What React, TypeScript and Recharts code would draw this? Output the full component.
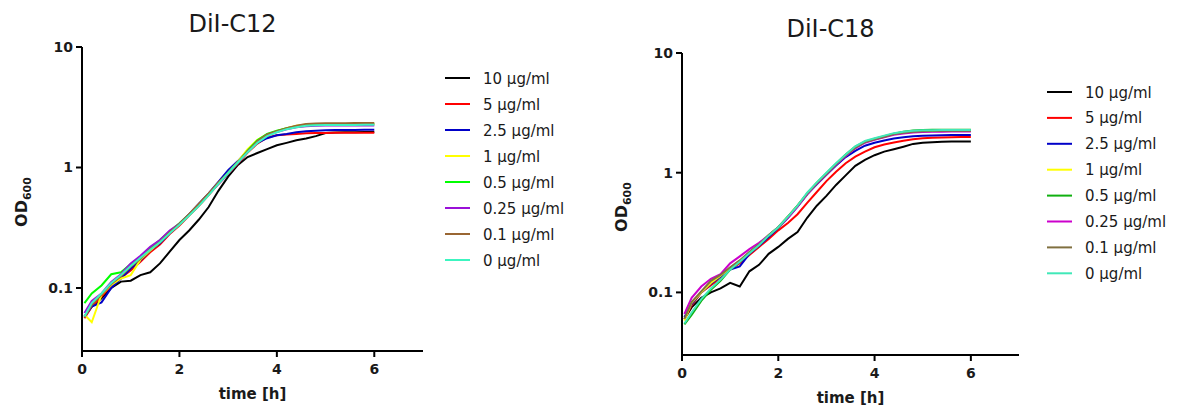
import { Label, Line, LineChart, XAxis, YAxis } from "recharts";

const FONT = "'DejaVu Sans', 'Liberation Sans', Arial, sans-serif";
const INK = "#1a1a1a";

const TIMES = [0.05, 0.2, 0.4, 0.6, 0.8, 1.0, 1.2, 1.4, 1.6, 1.8, 2.0, 2.2, 2.4, 2.6, 2.8, 3.0, 3.2, 3.4, 3.6, 3.8, 4.0, 4.2, 4.4, 4.6, 4.8, 5.0, 5.2, 5.4, 5.6, 5.8, 6.0];
const X_TICKS = [0, 2, 4, 6];
const Y_TICKS = [0.1, 1, 10];
const DOSES = ["10 μg/ml", "5 μg/ml", "2.5 μg/ml", "1 μg/ml", "0.5 μg/ml", "0.25 μg/ml", "0.1 μg/ml", "0 μg/ml"];

// DiI-C12, OD600 per dose
const c12_10 = [0.058, 0.07, 0.082, 0.1, 0.113, 0.115, 0.128, 0.135, 0.16, 0.2, 0.25, 0.3, 0.37, 0.47, 0.64, 0.84, 1.05, 1.22, 1.32, 1.42, 1.53, 1.6, 1.68, 1.74, 1.82, 1.93, 1.95, 1.96, 1.96, 1.97, 1.97];
const c12_5 = [0.056, 0.07, 0.085, 0.105, 0.122, 0.14, 0.165, 0.198, 0.23, 0.28, 0.33, 0.4, 0.48, 0.59, 0.73, 0.89, 1.08, 1.33, 1.58, 1.78, 1.85, 1.88, 1.9, 1.92, 1.93, 1.93, 1.94, 1.94, 1.94, 1.94, 1.94];
const c12_2_5 = [0.058, 0.07, 0.076, 0.1, 0.12, 0.145, 0.17, 0.205, 0.235, 0.285, 0.34, 0.41, 0.5, 0.61, 0.76, 0.95, 1.13, 1.38, 1.6, 1.75, 1.85, 1.9, 1.96, 2.0, 2.02, 2.04, 2.05, 2.05, 2.05, 2.06, 2.06];
const c12_1 = [0.06, 0.052, 0.088, 0.106, 0.12, 0.128, 0.172, 0.205, 0.24, 0.29, 0.34, 0.41, 0.49, 0.6, 0.74, 0.9, 1.12, 1.42, 1.7, 1.88, 2.0, 2.12, 2.22, 2.27, 2.29, 2.3, 2.3, 2.3, 2.3, 2.3, 2.3];
const c12_0_5 = [0.075, 0.09, 0.105, 0.13, 0.135, 0.158, 0.18, 0.215, 0.25, 0.295, 0.345, 0.41, 0.49, 0.6, 0.74, 0.9, 1.1, 1.38, 1.68, 1.9, 2.02, 2.12, 2.2, 2.25, 2.27, 2.28, 2.28, 2.28, 2.28, 2.28, 2.28];
const c12_0_25 = [0.062, 0.078, 0.09, 0.112, 0.13, 0.16, 0.185, 0.22, 0.25, 0.3, 0.34, 0.41, 0.49, 0.6, 0.73, 0.89, 1.09, 1.35, 1.62, 1.85, 1.97, 2.08, 2.16, 2.2, 2.22, 2.23, 2.23, 2.23, 2.23, 2.23, 2.23];
const c12_0_1 = [0.057, 0.072, 0.088, 0.108, 0.125, 0.15, 0.175, 0.21, 0.24, 0.29, 0.34, 0.41, 0.5, 0.61, 0.75, 0.9, 1.1, 1.36, 1.65, 1.88, 2.0, 2.12, 2.22, 2.3, 2.32, 2.33, 2.33, 2.33, 2.34, 2.34, 2.34];
const c12_0 = [0.058, 0.075, 0.09, 0.11, 0.128, 0.152, 0.178, 0.208, 0.24, 0.285, 0.335, 0.4, 0.48, 0.59, 0.73, 0.9, 1.1, 1.34, 1.6, 1.82, 1.96, 2.08, 2.16, 2.22, 2.24, 2.25, 2.25, 2.25, 2.25, 2.26, 2.26];

// DiI-C18, OD600 per dose
const c18_10 = [0.06, 0.075, 0.09, 0.1, 0.108, 0.12, 0.112, 0.15, 0.17, 0.21, 0.24, 0.28, 0.32, 0.42, 0.53, 0.64, 0.79, 0.95, 1.14, 1.28, 1.4, 1.5, 1.57, 1.65, 1.74, 1.78, 1.8, 1.81, 1.82, 1.82, 1.82];
const c18_5 = [0.06, 0.078, 0.1, 0.115, 0.13, 0.155, 0.175, 0.205, 0.24, 0.28, 0.33, 0.38, 0.45, 0.56, 0.69, 0.85, 1.02, 1.2, 1.36, 1.5, 1.63, 1.72, 1.79, 1.85, 1.9, 1.94, 1.96, 1.97, 1.98, 1.99, 1.99];
const c18_2_5 = [0.062, 0.08, 0.1, 0.118, 0.135, 0.155, 0.165, 0.21, 0.245, 0.29, 0.345, 0.42, 0.52, 0.66, 0.8, 0.96, 1.15, 1.35, 1.52, 1.68, 1.78, 1.86, 1.93, 1.98, 2.02, 2.04, 2.05, 2.06, 2.07, 2.07, 2.07];
const c18_1 = [0.058, 0.082, 0.1, 0.12, 0.138, 0.16, 0.185, 0.215, 0.25, 0.3, 0.35, 0.43, 0.53, 0.67, 0.82, 0.98, 1.18, 1.4, 1.62, 1.8, 1.9, 2.0, 2.1, 2.16, 2.2, 2.22, 2.22, 2.23, 2.23, 2.23, 2.23];
const c18_0_5 = [0.054, 0.065, 0.085, 0.105, 0.125, 0.155, 0.18, 0.215, 0.25, 0.3, 0.35, 0.43, 0.53, 0.67, 0.82, 0.99, 1.19, 1.42, 1.65, 1.82, 1.92, 2.02, 2.12, 2.2, 2.25, 2.27, 2.28, 2.28, 2.28, 2.28, 2.28];
const c18_0_25 = [0.066, 0.09, 0.112, 0.13, 0.142, 0.175, 0.2, 0.23, 0.26, 0.3, 0.35, 0.42, 0.52, 0.66, 0.81, 0.97, 1.17, 1.38, 1.6, 1.78, 1.88, 1.98, 2.07, 2.13, 2.17, 2.19, 2.2, 2.2, 2.21, 2.21, 2.21];
const c18_0_1 = [0.06, 0.083, 0.102, 0.125, 0.14, 0.162, 0.185, 0.218, 0.252, 0.3, 0.35, 0.43, 0.53, 0.67, 0.82, 0.98, 1.18, 1.4, 1.62, 1.8, 1.9, 2.0, 2.1, 2.16, 2.2, 2.22, 2.23, 2.24, 2.24, 2.24, 2.24];
const c18_0 = [0.055, 0.068, 0.088, 0.108, 0.128, 0.155, 0.18, 0.212, 0.248, 0.298, 0.35, 0.43, 0.53, 0.68, 0.83, 1.0, 1.2, 1.42, 1.66, 1.84, 1.94, 2.04, 2.14, 2.2, 2.24, 2.26, 2.26, 2.27, 2.27, 2.27, 2.27];

const C12_COLORS = ["#000000", "#ff0000", "#0000c8", "#ffff00", "#00ff00", "#9a10d8", "#996633", "#3cf5c0"];
const C18_COLORS = ["#000000", "#ff0000", "#0000c8", "#ffff00", "#10b010", "#cc00cc", "#807040", "#40e8b8"];

interface PanelProps {
  left: number;
  title: string;
  series: number[][];
  colors: string[];
  top: number;
  bottom: number;
  plotRight: number;
  titleY: number;
  legendTop: number;
  legendX: number;
  legendGap: number;
}

function OdLabel({ viewBox }: any) {
  const vb = viewBox ?? { y: 50, height: 300 };
  const cx = 27;
  const cy = vb.y + vb.height / 2 + 3;
  return (
    <text
      x={cx}
      y={cy}
      transform={`rotate(-90 ${cx} ${cy})`}
      textAnchor="middle"
      fontFamily={FONT}
      fontWeight="bold"
      fontSize={16}
      fill={INK}
    >
      OD
      <tspan fontSize={11} dy={4}>
        600
      </tspan>
    </text>
  );
}

function YTick({ x, y, payload }: any) {
  return (
    <text x={x} y={y} dy={5} textAnchor="end" fontFamily={FONT} fontWeight="bold" fontSize={14} fill={INK}>
      {String(payload.value)}
    </text>
  );
}

function XTick({ x, y, payload }: any) {
  return (
    <text x={x} y={y} dy={10} textAnchor="middle" fontFamily={FONT} fontWeight="bold" fontSize={14} fill={INK}>
      {String(payload.value)}
    </text>
  );
}

function Panel({ left, title, series, colors, top, bottom, plotRight, titleY, legendTop, legendX, legendGap }: PanelProps) {
  const rows = TIMES.map((t, i) => {
    const row: Record<string, number> = { t };
    series.forEach((s, k) => (row[`s${k}`] = s[i]));
    return row;
  });

  return (
    <div style={{ position: "absolute", left, top: 0, width: 580, height: 412 }}>
      <LineChart
        width={440}
        height={412}
        data={rows}
        margin={{ top, right: 440 - plotRight, left: 32, bottom: 412 - bottom - 48 }}
      >
        <XAxis
          dataKey="t"
          type="number"
          domain={[0, 7]}
          ticks={X_TICKS}
          height={48}
          tickSize={6}
          tickMargin={7}
          tick={<XTick />}
          axisLine={{ stroke: "#000", strokeWidth: 2 }}
          tickLine={{ stroke: "#000", strokeWidth: 2 }}
        >
          <Label
            value="time [h]"
            position="insideBottom"
            offset={0}
            style={{ fill: INK, fontSize: 15, fontWeight: "bold", fontFamily: FONT }}
          />
        </XAxis>
        <YAxis
          type="number"
          scale="log"
          domain={[0.03, 10]}
          allowDataOverflow
          ticks={Y_TICKS}
          width={50}
          tickSize={6}
          tickMargin={3}
          tick={<YTick />}
          axisLine={{ stroke: "#000", strokeWidth: 2 }}
          tickLine={{ stroke: "#000", strokeWidth: 2 }}
          label={<OdLabel />}
        />
        {series.map((_, k) => (
          <Line
            key={k}
            type="linear"
            dataKey={`s${k}`}
            stroke={colors[k]}
            strokeWidth={2}
            dot={false}
            isAnimationActive={false}
          />
        ))}
      </LineChart>
      <svg width={580} height={412} style={{ position: "absolute", left: 0, top: 0, pointerEvents: "none" }}>
        <text x={(82 + plotRight) / 2 - 20} y={titleY} textAnchor="middle" fontFamily={FONT} fontSize={24} fill={INK}>
          {title}
        </text>
        {DOSES.map((d, k) => {
          const y = legendTop + k * legendGap;
          return (
            <g key={d}>
              <line x1={legendX} x2={legendX + 25} y1={y} y2={y} stroke={colors[k]} strokeWidth={2} />
              <text x={legendX + 38} y={y + 5.5} fontFamily={FONT} fontSize={15} fill={INK}>
                {d}
              </text>
            </g>
          );
        })}
      </svg>
    </div>
  );
}

export default function App() {
  return (
    <div style={{ position: "absolute", left: 0, top: 0, width: 1180, height: 412, background: "#fff", fontFamily: FONT }}>
      <Panel
        left={0}
        title="DiI-C12"
        series={[c12_10, c12_5, c12_2_5, c12_1, c12_0_5, c12_0_25, c12_0_1, c12_0]}
        colors={C12_COLORS}
        top={47}
        bottom={351}
        plotRight={423}
        titleY={32}
        legendTop={78}
        legendX={445}
        legendGap={26}
      />
      <Panel
        left={600}
        title="DiI-C18"
        series={[c18_10, c18_5, c18_2_5, c18_1, c18_0_5, c18_0_25, c18_0_1, c18_0]}
        colors={C18_COLORS}
        top={53}
        bottom={355}
        plotRight={419}
        titleY={37}
        legendTop={92}
        legendX={447}
        legendGap={25.9}
      />
    </div>
  );
}
